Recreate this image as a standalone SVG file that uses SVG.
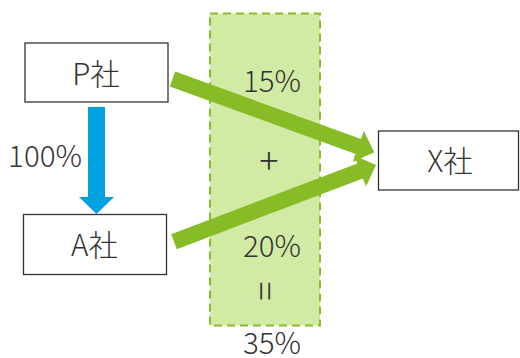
<svg xmlns="http://www.w3.org/2000/svg" width="520" height="358" viewBox="0 0 520 358">
<style>
.box{fill:#fff;stroke:#333;stroke-width:1.3}
.t{font-family:"Noto Sans CJK JP","Noto Sans",sans-serif;font-size:29.5px;font-weight:300;fill:#333;text-anchor:middle}
.g{fill:#86bc25}
</style>
<rect x="210" y="13.5" width="110" height="312" fill="#d2eba4" stroke="#8aba2a" stroke-width="2" stroke-dasharray="8,5"/>
<g id="connectors">
<polygon class="g" points="175.2,71.5 361.0,139.0 363.9,131 374.3,152.3 352.7,162 355.6,154.0 169.8,86.5"/>
<polygon class="g" points="171.2,234.2 357.3,163.5 354.2,155.6 376,165 366,186.4 362.9,178.5 176.8,249.2"/>
<polygon fill="#00a2e0" points="88,107 105,107 105,197 114,197 96.5,214 79,197 88,197"/>
</g>
<g id="P">
<rect class="box" x="25" y="43" width="143" height="59"/>
<text class="t" x="96" y="85">P社</text>
</g>
<g id="A">
<rect class="box" x="23.5" y="214.5" width="143" height="60"/>
<text class="t" x="94.5" y="256">A社</text>
</g>
<g id="X">
<rect class="box" x="378.5" y="131" width="140" height="59"/>
<text class="t" x="450" y="172">X社</text>
</g>
<g id="labels">
<text class="t" x="45" y="166.5">100%</text>
<text class="t" x="272" y="91.5">15%</text>
<text class="t" x="269" y="174" style="font-size:36px">+</text>
<text class="t" transform="translate(264,291) rotate(90)" y="12" style="font-size:36px">=</text>
<text class="t" x="272" y="257">20%</text>
<text class="t" x="272" y="353.5">35%</text>
</g>
</svg>
